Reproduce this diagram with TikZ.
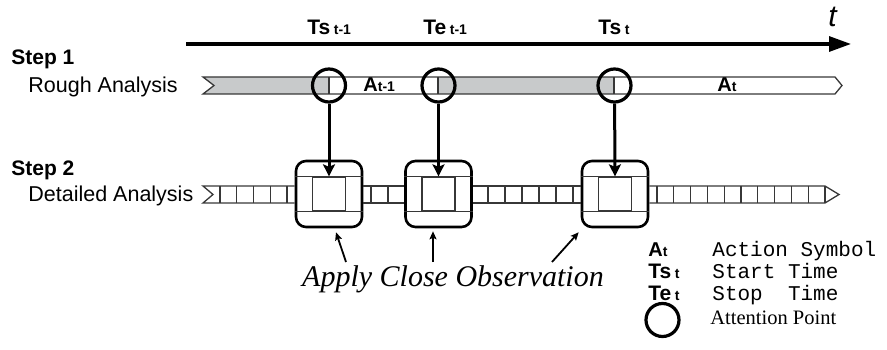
\documentclass[tikz,border=0pt]{standalone}
\usepackage{fontspec}
\setmainfont{Liberation Sans}
\setmonofont{Liberation Mono}
\newfontfamily\timesfont{Liberation Serif}
\usetikzlibrary{arrows.meta, positioning}
\definecolor{bandgray}{RGB}{200,202,203}
\definecolor{linegray}{RGB}{55,55,55}
\newcommand{\fsz}[1]{\fontsize{#1}{#1}\selectfont}
\newcommand{\tlbl}[2]{\bfseries\fsz{21}#1\,{\fsz{14}#2}}
\newcommand{\albl}[2]{\bfseries\fsz{20}#1{\fsz{14}#2}}

\begin{document}
\begin{tikzpicture}[x=1pt, y=-1pt, thick,
    >={Stealth[length=12pt,width=12pt,inset=2.5pt]},
    txt/.style={inner sep=0pt, anchor=base west},
    attn/.style={draw, circle, line width=3.2pt, minimum size=33pt, inner sep=0pt},
    zoombox/.style={draw, rounded corners=10pt, line width=2.6pt, minimum size=66pt, inner sep=0pt},
    bigcell/.style={draw=linegray, line width=1.3pt, minimum width=33pt, minimum height=34pt, inner sep=0pt},
    tape/.style={draw=linegray, line width=1.3pt},
    pointer/.style={->, line width=3pt},
    obsarrow/.style={-{Stealth[length=8pt,width=7pt,inset=1.5pt]}, line width=1.8pt}]
    \useasboundingbox (0,0) rectangle (887,350);

    % time axis
    \coordinate (ax0) at (186,44);
    \coordinate (ax1) at (851,44);
    \draw[line width=3.2pt, -{Triangle[length=22pt,width=15pt]}] (ax0) -- (ax1);
    \node[txt] (tname) at (828,27) {\fsz{30}\itshape t};
    \node[txt] (tsprev) at (307,35) {\tlbl{Ts}{t-1}};
    \node[txt] (teprev) at (423,35) {\tlbl{Te}{t-1}};
    \node[txt] (tscur) at (598,35) {\tlbl{Ts}{t}};

    % step 1
    \node[txt] (step1) at (11,65) {\bfseries\fsz{21}Step 1};
    \node[txt] (rough) at (28,93) {\fsz{21.5}Rough Analysis};
    \fill[bandgray] (203,77) -- (329,77) -- (329,94) -- (203,94) -- (214,85.5) -- cycle;
    \fill[bandgray] (438,77) rectangle (614,94);
    \draw[tape] (203,77) -- (835,77) -- (842,85.5) -- (835,94) -- (203,94) -- (214,85.5) -- cycle;
    \foreach \x in {329,438,614}
        \draw[tape] (\x,77) -- (\x,94);
    \node[txt] (aprev) at (363,92) {\albl{A}{t-1}};
    \node[txt] (acur) at (717,92) {\albl{A}{t}};
    \node[attn] (c1) at (329,85.5) {};
    \node[attn] (c2) at (438.5,85.5) {};
    \node[attn] (c3) at (614.5,85.5) {};

    % step 2
    \node[txt] (step2) at (11,175.5) {\bfseries\fsz{21}Step 2};
    \node[txt] (detail) at (28,202) {\fsz{21.5}Detailed Analysis};
    \node[zoombox] (b1) at (329,194) {};
    \node[zoombox] (b2) at (438.5,194) {};
    \node[zoombox] (b3) at (615,194) {};
    \node[bigcell] (m1) at (b1) {};
    \node[bigcell] (m2) at (b2) {};
    \node[bigcell] (m3) at (b3) {};
    \foreach \b/\m in {b1/m1,b2/m2,b3/m3} {
        \draw[tape] (\b.west |- \m.north) -- (\b.east |- \m.north);
        \draw[tape] (\b.west |- \m.south) -- (\b.east |- \m.south);
    }
    \draw[tape] (b1.west |- 0,186) -- (203,186) -- (213,194.5) -- (203,203) -- (b1.west |- 0,203);
    \draw[tape] (b1.east |- 0,186) -- (b2.west |- 0,186);
    \draw[tape] (b1.east |- 0,203) -- (b2.west |- 0,203);
    \draw[tape] (b2.east |- 0,186) -- (b3.west |- 0,186);
    \draw[tape] (b2.east |- 0,203) -- (b3.west |- 0,203);
    \draw[tape] (b3.east |- 0,186) -- (825,186) -- (839,194.5) -- (825,203) -- (b3.east |- 0,203);
    \foreach \i in {0,...,4}
        \draw[tape] ({220+16.75*\i},186) -- ++(0,17);
    \foreach \i in {0,1}
        \draw[tape] ({371+17*\i},186) -- ++(0,17);
    \foreach \i in {0,...,5}
        \draw[tape] ({488+17*\i},186) -- ++(0,17);
    \foreach \i in {0,...,10}
        \draw[tape] ({657+16.8*\i},186) -- ++(0,17);

    \draw[pointer] (c1) -- (m1.north);
    \draw[pointer] (c2) -- (m2.north);
    \draw[pointer] (c3) -- (m3.north);

    % close observation
    \node[inner sep=0pt, anchor=base] (obs) at (453,287) {\timesfont\itshape\fsz{30}Apply Close Observation};
    \coordinate (o1) at (346,262);
    \coordinate (o2) at (433,262);
    \coordinate (o3) at (552,262);
    \draw[obsarrow] (o1) -- ([shift={(7pt,-4pt)}]b1.south);
    \draw[obsarrow] (o2) -- ([shift={(-5.5pt,-3pt)}]b2.south);
    \draw[obsarrow] (o3) -- ([shift={(-2pt,-4pt)}]b3.south west);

    % legend
    \node[txt] (keya) at (648,256) {\albl{A}{t}};
    \node[txt] (keyts) at (648,278) {\tlbl{Ts}{t}};
    \node[txt] (keyte) at (648,300) {\tlbl{Te}{t}};
    \node[txt] (texta) at (712,256) {\ttfamily\fsz{21}Action Symbol};
    \node[txt] (textts) at (712,278) {\ttfamily\fsz{21}Start Time};
    \node[txt] (textte) at (712,300) {\ttfamily\fsz{21}Stop\ \ Time};
    \node[attn] (keyc) at (662.5,320) {};
    \node[txt] (textc) at (710,324) {\timesfont\fsz{20.5}Attention Point};
\end{tikzpicture}
\end{document}
